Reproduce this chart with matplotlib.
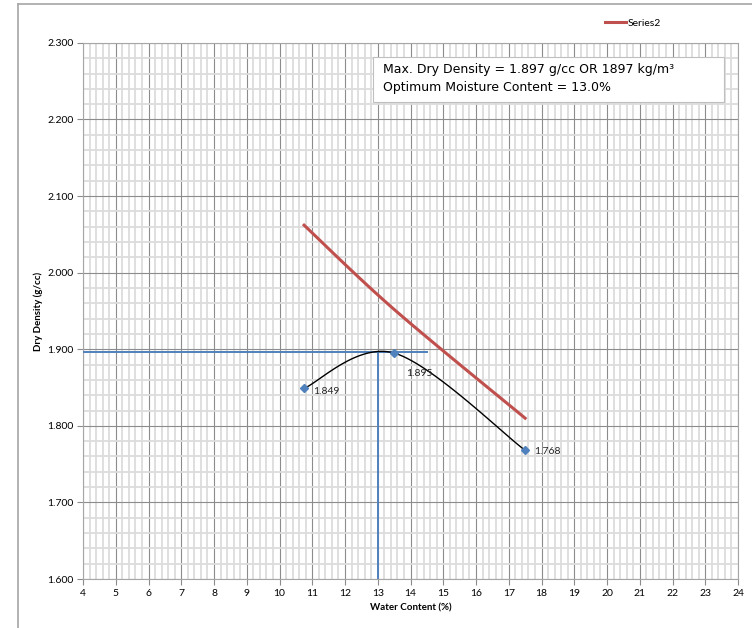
import matplotlib
matplotlib.use('Agg')
import matplotlib.pyplot as plt
from matplotlib.lines import Line2D
from matplotlib.patches import Rectangle
from matplotlib.ticker import MultipleLocator
import numpy as np

# compaction test data
water_content = [10.75, 13.5, 17.5]
dry_density = [1.849, 1.895, 1.768]
# zero air voids line (Series2)
zav_density = [2.062, 1.952, 1.810]

mdd = 1.897
omc = 13.0
guide_x_end = 14.5

x_ticks = list(range(4, 25))
y_ticks = [1.6, 1.7, 1.8, 1.9, 2.0, 2.1, 2.2, 2.3]


def excel_smooth(xs, ys, n=60):
    # Excel-style smoothed line: Catmull-Rom turned into Bezier segments
    pts = np.column_stack([xs, ys]).astype(float)
    out = []
    for i in range(len(pts) - 1):
        p0 = pts[max(i - 1, 0)]
        p1 = pts[i]
        p2 = pts[i + 1]
        p3 = pts[min(i + 2, len(pts) - 1)]
        c1 = p1 + (p2 - p0) / 6.0
        c2 = p2 - (p3 - p1) / 6.0
        t = np.linspace(0, 1, n)[:, None]
        seg = ((1 - t) ** 3) * p1 + 3 * ((1 - t) ** 2) * t * c1 + 3 * (1 - t) * t ** 2 * c2 + t ** 3 * p2
        out.append(seg if i == 0 else seg[1:])
    seg = np.vstack(out)
    return seg[:, 0], seg[:, 1]


fig = plt.figure(figsize=(7.52, 6.28), dpi=100)
ax = fig.add_axes([0.1104, 0.078, 0.8710, 0.8537])

# outer chart frame (left and top edges only visible)
fig.add_artist(Line2D([18 / 752, 18 / 752], [0, 1 - 4 / 628], color='#a6a6a6', lw=1.2, transform=fig.transFigure))
fig.add_artist(Line2D([18 / 752, 1], [1 - 4 / 628, 1 - 4 / 628], color='#a6a6a6', lw=1.2, transform=fig.transFigure))

ax.set_xlim(4, 24)
ax.set_ylim(1.6, 2.3)
ax.xaxis.set_major_locator(MultipleLocator(1))
ax.xaxis.set_minor_locator(MultipleLocator(0.2))
ax.yaxis.set_major_locator(MultipleLocator(0.1))
ax.yaxis.set_minor_locator(MultipleLocator(0.02))
ax.grid(which='minor', color='#dcdcdc', lw=1.3, zorder=0)
ax.grid(which='major', color='#8c8c8c', lw=0.8, zorder=0)
ax.set_axisbelow(True)
ax.set_xticks(x_ticks)
ax.set_yticks(y_ticks)
ax.set_yticklabels(['%.3f' % v for v in y_ticks])
ax.tick_params(which='major', direction='out', length=4, color='#8c8c8c', labelsize=7.5, pad=3)
ax.tick_params(which='minor', length=0)
for lab in ax.get_xticklabels() + ax.get_yticklabels():
    lab.set_fontfamily('Lato')
for s in ax.spines.values():
    s.set_color('#a6a6a6')
    s.set_linewidth(0.8)

ax.set_xlabel('Water Content (%)', fontsize=7, fontweight='bold', fontfamily='Lato', labelpad=4)
ax.set_ylabel('Dry Density (g/cc)', fontsize=7, fontweight='bold', fontfamily='Lato', labelpad=3)

# MDD / OMC guide lines
ax.plot([4, guide_x_end], [mdd, mdd], color='#4f81bd', lw=1.4, zorder=3)
ax.plot([omc, omc], [1.6, mdd], color='#4f81bd', lw=1.4, zorder=3)

# zero air voids line
zx, zy = excel_smooth(water_content, zav_density)
ax.plot(zx, zy, color='#c0504d', lw=2.2, zorder=4, label='Series2')

# compaction curve
cx, cy = excel_smooth(water_content, dry_density)
ax.plot(cx, cy, color='black', lw=1.0, zorder=4)
ax.plot(water_content, dry_density, linestyle='none', marker='D', markersize=4,
        color='#4f81bd', zorder=5)

offsets = [(6.5, -2), (8.5, -15), (6.5, -1)]
for x, y, off in zip(water_content, dry_density, offsets):
    ax.annotate('%.3f' % y, (x, y), xytext=off, textcoords='offset points',
                fontsize=7.5, fontfamily='Lato', color='#262626', va='center', ha='left', zorder=6)

# result box
ax.add_patch(Rectangle((12.855, 2.2229), 10.715, 0.0588, facecolor='white',
                       edgecolor='#bfbfbf', lw=0.8, zorder=7))
ax.text(13.15, 2.2655, 'Max. Dry Density = 1.897 g/cc OR 1897 kg/m\u00b3',
        fontsize=9, va='center', ha='left', color='black', zorder=8)
ax.text(13.15, 2.2415, 'Optimum Moisture Content = 13.0%',
        fontsize=9, va='center', ha='left', color='black', zorder=8)

ax.legend(loc='center left', bbox_to_anchor=(596 / 752, 1 - 23 / 628), bbox_transform=fig.transFigure,
          frameon=False, handlelength=2.0, handletextpad=0.15,
          prop={'family': 'Lato', 'size': 7.5})

fig.savefig('out.png', dpi=100)
